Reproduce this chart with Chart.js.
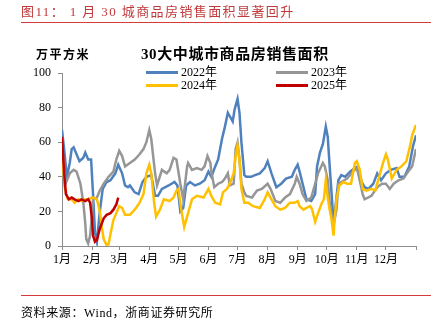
<!DOCTYPE html>
<html>
<head>
<meta charset="utf-8">
<script src="https://cdn.jsdelivr.net/npm/chart.js@4.4.1/dist/chart.umd.min.js"></script>
<style>
  html, body { margin: 0; padding: 0; background: #fff; }
  #wrap { position: relative; width: 438px; height: 326px; overflow: hidden;
          font-family: "Liberation Serif", "Noto Sans CJK SC", serif; color: #000; }
  #c { position: absolute; left: 0; top: 0; }
  .abs { position: absolute; white-space: nowrap; }
  .rule { position: absolute; left: 21px; width: 410px; height: 1px; background: #d63a3a; }
  .leg { position: absolute; font-size: 12px; line-height: 13px; white-space: nowrap; }
  .leg i { display: inline-block; width: 32px; height: 3px; vertical-align: middle; margin-right: 3px; position: relative; top: -1px; }
</style>
</head>
<body>
<div id="wrap">
  <canvas id="c" width="438" height="326"></canvas>
  <div class="abs" style="left:21px;top:1px;font-size:13px;letter-spacing:1.4px;color:#c0393b;">图11：&nbsp;1 月 30 城商品房销售面积显著回升</div>
  <div class="rule" style="top:22px;"></div>
  <div class="abs" style="left:36px;top:45px;font-size:12px;letter-spacing:1.5px;font-weight:bold;">万平方米</div>
  <div class="abs" style="left:141px;top:42px;font-size:15px;letter-spacing:0.6px;font-weight:bold;">30大中城市商品房销售面积</div>
  <div class="leg" style="left:146px;top:66px;"><i style="background:#4f81bd"></i>2022年</div>
  <div class="leg" style="left:276px;top:66px;"><i style="background:#969696"></i>2023年</div>
  <div class="leg" style="left:146px;top:79px;"><i style="background:#ffc000"></i>2024年</div>
  <div class="leg" style="left:276px;top:79px;"><i style="background:#c00000"></i>2025年</div>
  <div class="rule" style="top:295px;"></div>
  <div class="abs" style="left:21px;top:303px;font-size:12px;letter-spacing:0.6px;">资料来源：Wind，浙商证券研究所</div>
</div>
<script>
// day-of-year axis, ticks at the first of each month
const monthStarts = [0, 31, 59, 90, 120, 151, 181, 212, 243, 273, 304, 334, 365];
const monthLabels = ['1月', '2月', '3月', '4月', '5月', '6月', '7月', '8月', '9月', '10月', '11月', '12月'];
const yTicks = [0, 20, 40, 60, 80, 100];

// 2022
const days2022 = [0,2,5,8,10,12,15,18,22,24,27,30,32,34,36,39,42,46,50,55,58,62,65,68,70,75,79,83,87,92,96,99,103,110,116,119,122,125,128,132,137,142,147,151,154,158,161,165,168,171,173,176,178,181,183,185,188,190,195,199,204,209,212,216,221,226,231,237,240,243,245,249,252,257,261,263,266,269,272,274,276,278,280,283,285,288,292,297,302,305,309,312,316,321,325,329,334,339,345,348,353,358,362,365];
const vals2022 = [67,57,40,48,56,57,53,49,51,54,50,50,30,8,2.5,20,33,37,38,42,47,42,35,34,35,31,30,37,40,41,29,29,33,35,37,35,20,22,35,37,35,36,38,43,40,46,50,62,69,77,75,72,79,85,77,60,41,40,40,41,42,45,49,42,34,36,39,40,44,47,43,34,27,26,30,46,54,59,69,63,46,30,13,28,38,41,40,43,45,46,37,34,33,36,42,38,42,44,45,40,40,46,58,64];

// 2023
const days2023 = [0,3,8,12,15,19,22,24,25,27,29,31,32,36,39,43,48,53,56,59,62,65,70,75,80,84,87,90,92,96,98,103,108,111,115,118,122,125,129,130,134,139,144,147,150,153,154,157,161,165,168,171,173,177,179,181,183,185,188,190,196,201,206,212,215,220,225,230,235,240,242,245,248,252,257,261,264,269,271,274,276,279,280,283,285,288,294,300,304,307,310,312,319,325,330,334,338,342,347,352,357,361,365];
const vals2023 = [58,35,42,44,43,36,25,13,4,1.5,6,19,27,28,32,36,40,43,50,55,52,46,48,50,53,56,60,67,62,42,35,44,42,44,51,50,36,27,46,48,44,45,44,46,52,48,43,34,36,37,39,42,35,36,56,60,50,36,31,29,28,32,33,36,33,26,25,28,30,36,40,36,30,26,28,36,42,48,46,38,25,15,12,21,36,37,39,43,45,38,30,27,29,34,36,36,33,36,38,39,43,46,56];

// 2024
const days2024 = [0,3,6,10,13,17,20,24,27,31,32,36,39,41,43,46,48,50,53,56,59,62,65,70,75,80,84,87,90,92,95,97,101,105,111,115,118,120,123,126,130,134,139,146,151,154,158,163,166,170,173,177,179,181,183,185,188,192,197,204,209,212,215,220,225,230,235,240,243,245,249,252,256,258,261,264,268,270,272,274,276,278,280,281,283,286,290,294,298,302,304,307,310,314,319,323,328,331,334,336,340,345,350,355,359,361,365];
const vals2024 = [52,34,27,27,25,27,26,27,27,28,28,27,20,11,4,0.5,1,7,15,19,23,22,18,18,21,25,30,42,47,42,25,17,21,27,26,28,32,33,21,11,19,27,29,28,33,29,25,24,31,33,36,42,52,58,50,33,25,25,23,22,27,31,28,23,21,22,25,25,26,23,21,22,23,21,14,19,25,27,38,28,21,15,6,15,27,35,37,36,36,48,49,44,33,32,33,32,42,48,53,50,39,44,46,49,58,64,70];

// 2025
const days2025 = [0,2,4,7,10,13,17,20,24,27,29,31,32,34,36,39,43,46,50,53,56,58];
const vals2025 = [63,44,30,27,28,27,26,27,26,27,25,15,6,2.5,3.5,10,16,18,19,21,24,28];

const fontFamily = '"Liberation Serif", "Noto Sans CJK SC", serif';

function toPoints(days, vals) {
  return days.map((d, i) => ({ x: d, y: vals[i] }));
}

function makeSet(label, days, vals, color, order) {
  return {
    label: label,
    data: toPoints(days, vals),
    borderColor: color,
    backgroundColor: color,
    borderWidth: 2.5,
    pointRadius: 0,
    tension: 0,
    order: order
  };
}

new Chart(document.getElementById('c'), {
  type: 'line',
  data: {
    datasets: [
      makeSet('2022年', days2022, vals2022, '#4f81bd', 4),
      makeSet('2023年', days2023, vals2023, '#969696', 3),
      makeSet('2024年', days2024, vals2024, '#ffc000', 2),
      makeSet('2025年', days2025, vals2025, '#c00000', 1)
    ]
  },
  options: {
    responsive: false,
    animation: false,
    events: [],
    layout: { padding: { left: 32, right: 22, top: 73, bottom: 50 } },
    plugins: {
      legend: { display: false },
      tooltip: { enabled: false }
    },
    scales: {
      x: {
        type: 'linear',
        min: 0,
        max: 365,
        afterBuildTicks: function(scale) {
          scale.ticks = monthStarts.map(v => ({ value: v }));
        },
        afterFit: function(scale) { scale.height = 30; },
        ticks: {
          autoSkip: false,
          maxRotation: 0,
          padding: 3,
          color: '#000',
          font: { family: fontFamily, size: 12 },
          callback: function(value, index) {
            return monthLabels[index] || '';
          }
        },
        grid: { drawOnChartArea: false, tickLength: 4, color: '#8c8c8c' },
        border: { color: '#8c8c8c' }
      },
      y: {
        min: 0,
        max: 100,
        afterBuildTicks: function(scale) {
          scale.ticks = yTicks.map(v => ({ value: v }));
        },
        afterFit: function(scale) { scale.width = 30; },
        ticks: {
          padding: 7,
          color: '#000',
          font: { family: fontFamily, size: 12 }
        },
        grid: { drawOnChartArea: false, tickLength: 4, color: '#8c8c8c' },
        border: { color: '#8c8c8c' }
      }
    }
  }
});
</script>
</body>
</html>
